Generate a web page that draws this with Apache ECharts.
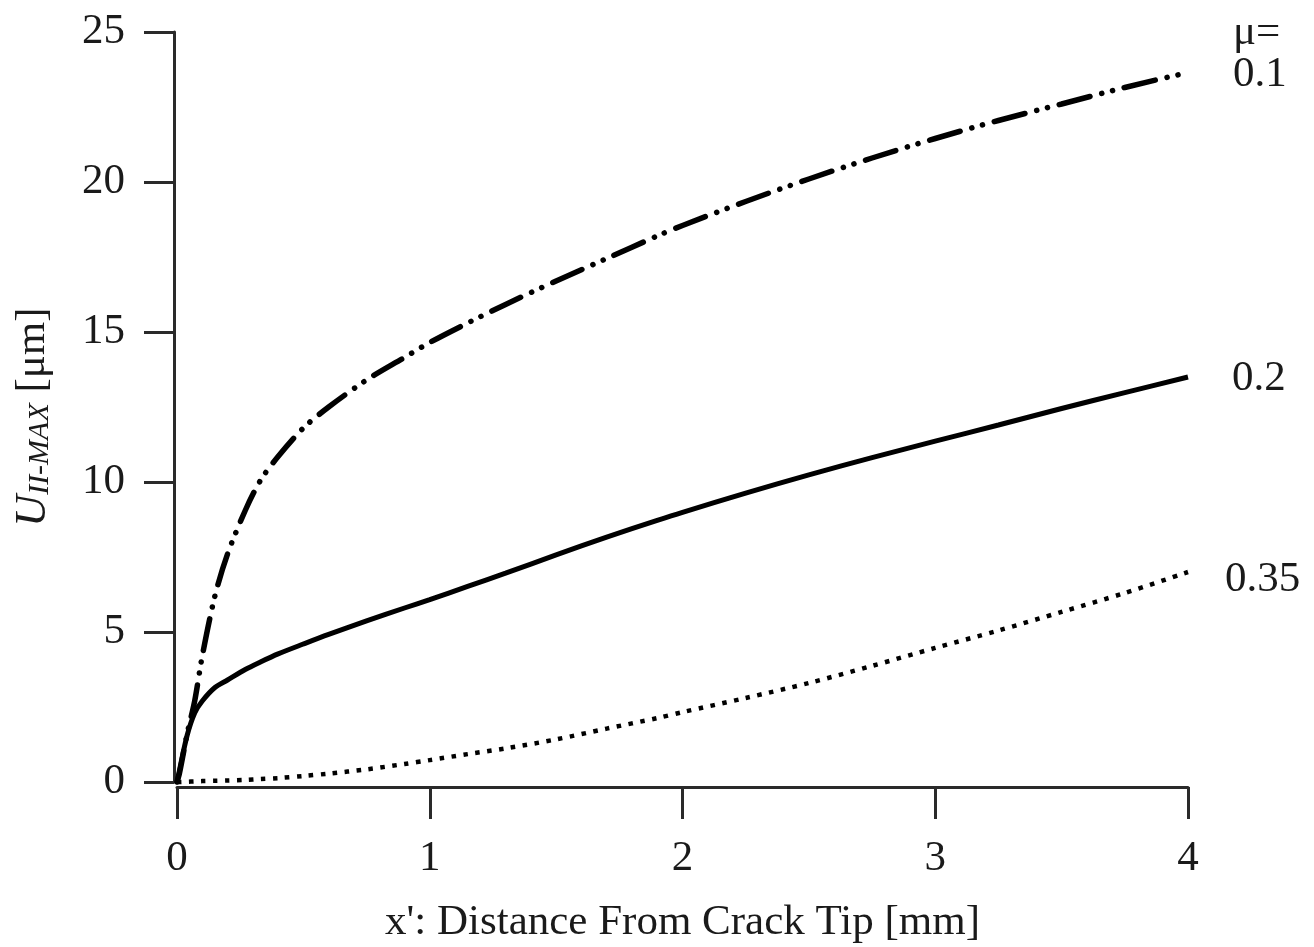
<!DOCTYPE html>
<html>
<head>
<meta charset="utf-8">
<script src="https://cdn.jsdelivr.net/npm/echarts@6/dist/echarts.min.js"></script>
<style>
  html, body { margin: 0; padding: 0; background: #ffffff; }
  #chart { width: 1314px; height: 947px; }
</style>
</head>
<body>
<div id="chart"></div>
<script>
// Distance from crack tip x' [mm]
const xDistance = [0, 0.01, 0.04, 0.07, 0.1, 0.15, 0.2, 0.27, 0.33, 0.4, 0.5, 0.6, 0.75, 0.9, 1.0,
  1.15, 1.3, 1.5, 1.7, 1.9, 2.0, 2.25, 2.5, 2.75, 3.0, 3.25, 3.5, 3.75, 4.0];

// Maximum mode-II displacement U_II-MAX [µm] for each friction coefficient
const uMu010 = [0, 0.3, 1.6, 2.7, 4.2, 6.2, 7.6, 9.05, 10.05, 10.85, 11.8, 12.5, 13.4, 14.15, 14.65,
  15.3, 15.92, 16.7, 17.45, 18.2, 18.55, 19.35, 20.1, 20.8, 21.45, 22.05, 22.6, 23.15, 23.65];
const uMu020 = [0, 0.4, 1.55, 2.3, 2.7, 3.15, 3.4, 3.75, 4.0, 4.27, 4.6, 4.92, 5.37, 5.8, 6.08,
  6.52, 6.96, 7.57, 8.16, 8.72, 8.99, 9.63, 10.24, 10.81, 11.36, 11.9, 12.45, 12.98, 13.5];
const uMu035 = [0, 0, 0.01, 0.02, 0.03, 0.04, 0.05, 0.07, 0.1, 0.13, 0.2, 0.28, 0.42, 0.6, 0.73,
  0.93, 1.12, 1.42, 1.78, 2.13, 2.33, 2.8, 3.3, 3.87, 4.47, 5.05, 5.67, 6.3, 7.0];

const muLabels = ['0.1', '0.2', '0.35'];
const muHeader = 'μ=';

const SERIF = '"Liberation Serif", "DejaVu Serif", serif';
const INK = '#000000';
const AXIS_INK = '#2a2a2a';
const TEXT_INK = '#1a1a1a';

const pairs = (ys) => xDistance.map((x, i) => [x, ys[i]]);

const endLabelBase = {
  show: true,
  color: TEXT_INK,
  fontFamily: SERIF,
  fontSize: 43,
  distance: 0,
  align: 'left',
  verticalAlign: 'middle'
};

const chart = echarts.init(document.getElementById('chart'), null, { renderer: 'canvas' });

chart.setOption({
  animation: false,
  backgroundColor: '#ffffff',
  grid: { left: 177, right: 126, top: 32, bottom: 165, outerBoundsMode: 'none' },
  xAxis: {
    type: 'value',
    min: 0, max: 4, interval: 1,
    offset: 5,
    splitLine: { show: false },
    axisLine: { show: true, onZero: false, lineStyle: { color: AXIS_INK, width: 3 } },
    axisTick: { show: true, inside: false, length: 32, lineStyle: { color: AXIS_INK, width: 3 } },
    axisLabel: { color: TEXT_INK, fontFamily: SERIF, fontSize: 43, margin: 50 },
    name: "x': Distance From Crack Tip [mm]",
    nameLocation: 'middle',
    nameGap: 114,
    nameTextStyle: { color: TEXT_INK, fontFamily: SERIF, fontSize: 43 }
  },
  yAxis: {
    type: 'value',
    min: 0, max: 25, interval: 5,
    offset: 3,
    splitLine: { show: false },
    axisLine: { show: true, onZero: false, lineStyle: { color: AXIS_INK, width: 3 } },
    axisTick: { show: true, inside: false, length: 30, lineStyle: { color: AXIS_INK, width: 3 } },
    axisLabel: { color: TEXT_INK, fontFamily: SERIF, fontSize: 43, margin: 49 },
    name: '{u|U}{s|II-MAX}{r| [μm]}',
    nameLocation: 'middle',
    nameRotate: 90,
    nameGap: 119,
    nameTextStyle: {
      color: TEXT_INK,
      fontFamily: SERIF,
      fontSize: 43,
      padding: [0, 20, 0, 0],
      rich: {
        u: { fontFamily: SERIF, fontSize: 44, fontStyle: 'italic', color: TEXT_INK },
        s: { fontFamily: SERIF, fontSize: 30, fontStyle: 'italic', color: TEXT_INK, verticalAlign: 'bottom' },
        r: { fontFamily: SERIF, fontSize: 43, color: TEXT_INK }
      }
    }
  },
  series: [
    {
      name: muLabels[0],
      type: 'line',
      data: pairs(uMu010),
      showSymbol: false,
      smooth: 0.3,
      clip: false,
      lineStyle: { color: INK, width: 5.5, type: [32, 12, 0.1, 11, 0.1, 12], cap: 'round' },
      endLabel: Object.assign({}, endLabelBase, {
        formatter: () => muHeader + '\n' + muLabels[0],
        lineHeight: 42,
        offset: [45, -19]
      })
    },
    {
      name: muLabels[1],
      type: 'line',
      data: pairs(uMu020),
      showSymbol: false,
      smooth: 0.3,
      clip: false,
      lineStyle: { color: INK, width: 5, type: 'solid' },
      endLabel: Object.assign({}, endLabelBase, {
        formatter: () => muLabels[1],
        offset: [44, 2]
      })
    },
    {
      name: muLabels[2],
      type: 'line',
      data: pairs(uMu035),
      showSymbol: false,
      smooth: 0.3,
      clip: false,
      lineStyle: { color: INK, width: 4.5, type: [4.5, 7.5], cap: 'butt' },
      endLabel: Object.assign({}, endLabelBase, {
        formatter: () => muLabels[2],
        offset: [37, 8]
      })
    }
  ]
});
</script>
</body>
</html>
